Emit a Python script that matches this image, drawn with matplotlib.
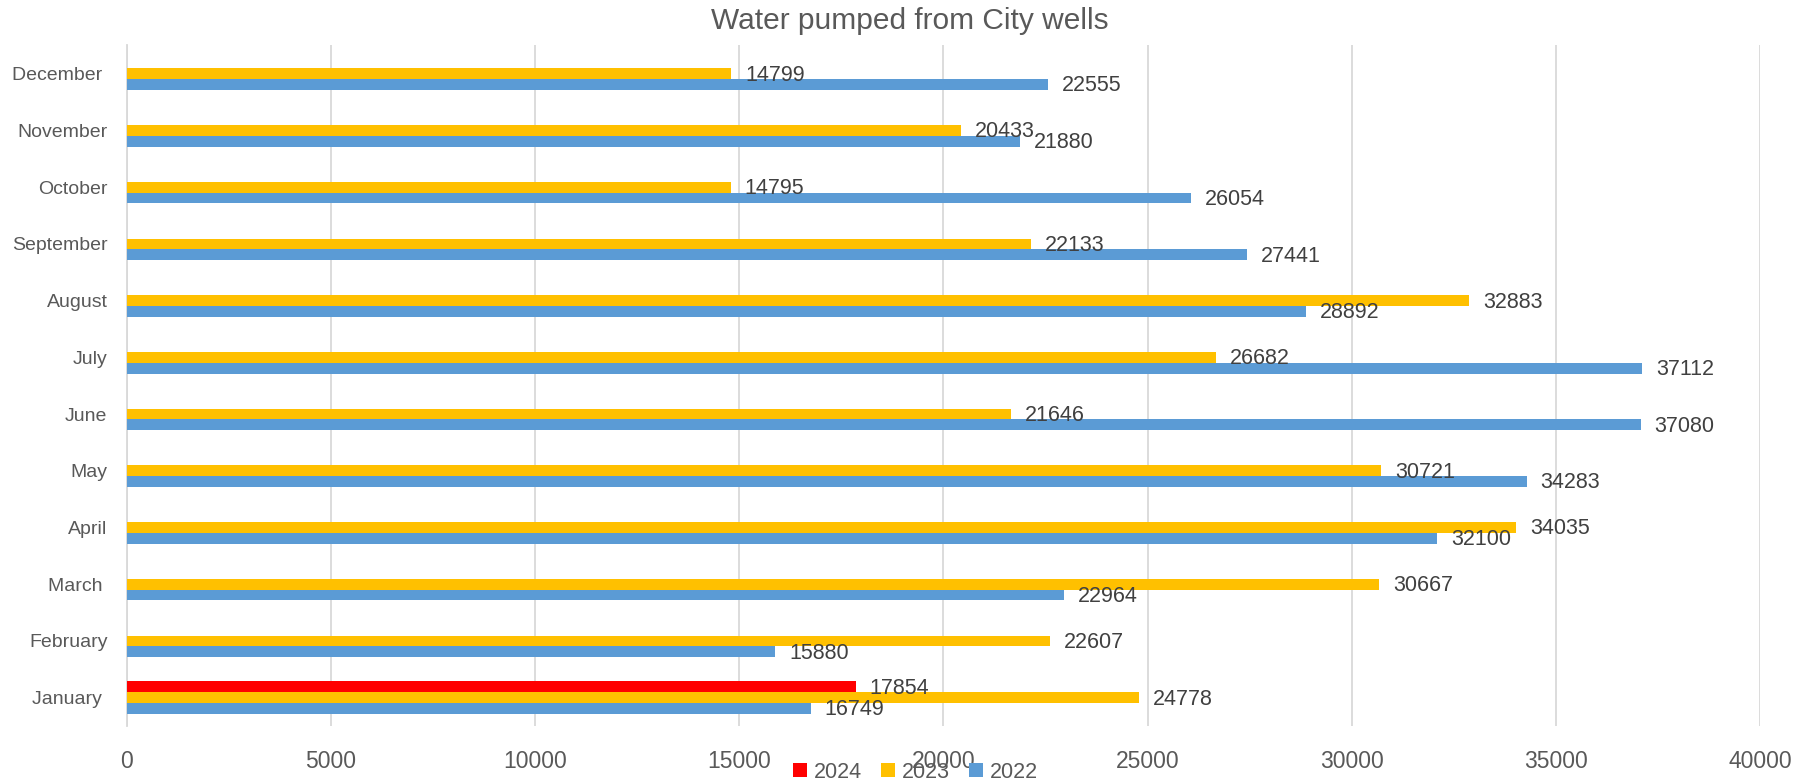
import numpy as np
import matplotlib
matplotlib.use("Agg")
import matplotlib.pyplot as plt

plt.rcParams['font.family'] = ['Liberation Sans', 'DejaVu Sans']

months = ["January ", "February", "March ", "April", "May", "June", "July",
          "August", "September", "October", "November", "December "]
y2024 = [17854, None, None, None, None, None, None, None, None, None, None, None]
y2023 = [24778, 22607, 30667, 34035, 30721, 21646, 26682, 32883, 22133, 14795, 20433, 14799]
y2022 = [16749, 15880, 22964, 32100, 34283, 37080, 37112, 28892, 27441, 26054, 21880, 22555]

series = [("2024", y2024, "#FF0000", 0.19),
          ("2023", y2023, "#FFC000", 0.0),
          ("2022", y2022, "#5B9BD5", -0.19)]

text_col = "#595959"
grid_col = "#D9D9D9"

fig = plt.figure(figsize=(18.06, 7.83), dpi=100)
ax = fig.add_axes([0.0703, 0.0728, 0.9042, 0.8692])

pos = np.arange(len(months))
for name, vals, col, off in series:
    idx = [i for i, v in enumerate(vals) if v is not None]
    v = [vals[i] for i in idx]
    ax.barh(pos[idx] + off, v, height=0.19, color=col, label=name, zorder=3)
    for i, val in zip(idx, v):
        ax.annotate(str(val), (val, pos[i] + off), xytext=(10, -1),
                    textcoords="offset points", va="center", ha="left",
                    fontsize=15.5, color="#404040", zorder=4)

ax.set_xlim(0, 40000)
ax.set_ylim(-0.5, 11.5)
ax.set_xticks(np.arange(0, 40001, 5000))
ax.set_yticks(pos)
ax.set_yticklabels(months)
ax.tick_params(axis="x", length=0, pad=17, labelsize=16.5, labelcolor=text_col)
ax.tick_params(axis="y", length=0, pad=14, labelsize=14, labelcolor=text_col)
ax.grid(axis="x", color=grid_col, linewidth=1.3, zorder=0)
for s in ["top", "right", "bottom"]:
    ax.spines[s].set_visible(False)
ax.spines["left"].set_color(grid_col)
ax.spines["left"].set_linewidth(1.3)

fig.text(0.504, 0.973, "Water pumped from City wells", ha="center", va="center",
         fontsize=21.5, color=text_col)

leg = fig.legend(loc="center", bbox_to_anchor=(0.507, 0.014), ncol=3, frameon=False,
                 fontsize=15.5, handlelength=0.65, handleheight=0.65, handletextpad=0.3,
                 columnspacing=0.9, borderpad=0)
for t in leg.get_texts():
    t.set_color(text_col)

fig.savefig("out.png", dpi=100)
